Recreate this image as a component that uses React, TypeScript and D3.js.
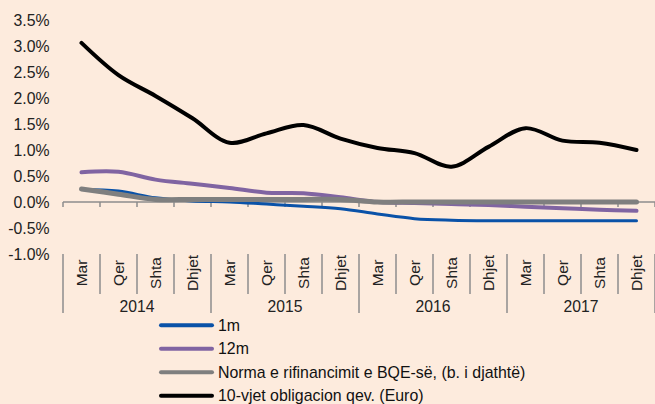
import * as d3 from "d3";

const WIDTH = 655;
const HEIGHT = 404;
const MARGIN = { top: 20, left: 63, right: 0 };

const quarters = ["Mar", "Qer", "Shta", "Dhjet"];
const years = ["2014", "2015", "2016", "2017"];

const rate1m = [0.24, 0.21, 0.08, 0.02, 0.0, -0.04, -0.08, -0.13, -0.23, -0.32, -0.35, -0.36, -0.36, -0.36, -0.36, -0.36];
const rate12m = [0.57, 0.58, 0.43, 0.35, 0.27, 0.18, 0.17, 0.09, 0.0, -0.02, -0.04, -0.06, -0.09, -0.12, -0.15, -0.17];
const ecbRate = [0.25, 0.15, 0.05, 0.05, 0.05, 0.05, 0.05, 0.05, 0.0, 0.0, 0.0, 0.0, 0.0, 0.0, 0.0, 0.0];
const bond10y = [3.06, 2.44, 2.04, 1.61, 1.14, 1.32, 1.48, 1.22, 1.04, 0.94, 0.68, 1.06, 1.42, 1.18, 1.14, 1.0];

const yTicks = [-1.0, -0.5, 0, 0.5, 1.0, 1.5, 2.0, 2.5, 3.0, 3.5];

const series = [
  { name: "1m", values: rate1m, color: "#0a52a8", width: 3 },
  { name: "12m", values: rate12m, color: "#8064a2", width: 4 },
  { name: "Norma e rifinancimit e BQE-së, (b. i djathtë)", values: ecbRate, color: "#7f7f7f", width: 5 },
  { name: "10-vjet obligacion qev. (Euro)", values: bond10y, color: "#000000", width: 4 },
];

const FONT = "'Liberation Sans', Arial, sans-serif";

export default function App() {
  const categories = years.flatMap((y) => quarters.map((q) => `${q} ${y}`));
  const x = d3
    .scaleBand<string>()
    .domain(categories)
    .range([MARGIN.left, WIDTH - MARGIN.right]);
  const y = d3.scaleLinear().domain([-1, 3.5]).range([254, MARGIN.top]);

  const bw = x.bandwidth();
  const cx = (i: number) => (x(categories[i]) as number) + bw / 2;

  const line = d3
    .line<number>()
    .x((_, i) => cx(i))
    .y((d) => y(d))
    .curve(d3.curveCatmullRom.alpha(0.5));

  const y0 = y(0);
  const yBottom = y(-1);

  return (
    <svg
      width={WIDTH}
      height={HEIGHT}
      style={{ position: "absolute", left: 0, top: 0, display: "block" }}
      fontFamily={FONT}
    >
      <rect width={WIDTH} height={HEIGHT} fill="#fdebdd" />

      {/* y axis labels */}
      {yTicks.map((t) => (
        <text
          key={t}
          x={49.5}
          y={y(t)}
          dy="0.35em"
          textAnchor="end"
          fontSize={15.8}
          fill="#222"
        >
          {t.toFixed(1)}%
        </text>
      ))}

      {/* x axis at zero */}
      <line x1={MARGIN.left} x2={WIDTH} y1={y0} y2={y0} stroke="#8c8c8c" strokeWidth={1.5} />
      {d3.range(categories.length + 1).map((k) => {
        const xx = MARGIN.left + k * bw;
        return <line key={k} x1={xx} x2={xx} y1={y0} y2={y0 + 5} stroke="#8c8c8c" strokeWidth={1.5} />;
      })}

      {/* category separators at bottom */}
      {d3.range(categories.length + 1).map((k) => {
        const xx = MARGIN.left + k * bw;
        return (
          <line
            key={k}
            x1={xx}
            x2={xx}
            y1={yBottom}
            y2={k % 4 === 0 ? 313 : 294}
            stroke="#8c8c8c"
            strokeWidth={1.5}
          />
        );
      })}
      {categories.map((c, i) => (
        <text
          key={c}
          transform={`translate(${cx(i)},273) rotate(-90)`}
          textAnchor="middle"
          dy="0.35em"
          fontSize={15.5}
          fill="#222"
        >
          {quarters[i % 4]}
        </text>
      ))}
      {years.map((yr, j) => (
        <text
          key={yr}
          x={MARGIN.left + (j * 4 + 2) * bw}
          y={306.5}
          dy="0.35em"
          textAnchor="middle"
          fontSize={15.7}
          fill="#222"
        >
          {yr}
        </text>
      ))}

      {/* lines */}
      {series.map((s) => (
        <path
          key={s.name}
          d={line(s.values) as string}
          fill="none"
          stroke={s.color}
          strokeWidth={s.width}
          strokeLinecap="round"
          strokeLinejoin="round"
        />
      ))}

      {/* legend */}
      {series.map((s, i) => {
        const ly = 325.3 + i * 23.5;
        return (
          <g key={s.name}>
            <line x1={161} x2={212} y1={ly} y2={ly} stroke={s.color} strokeWidth={4} strokeLinecap="round" />
            <text x={218} y={ly} dy="0.35em" fontSize={15.9} fill="#111">
              {s.name}
            </text>
          </g>
        );
      })}
    </svg>
  );
}
